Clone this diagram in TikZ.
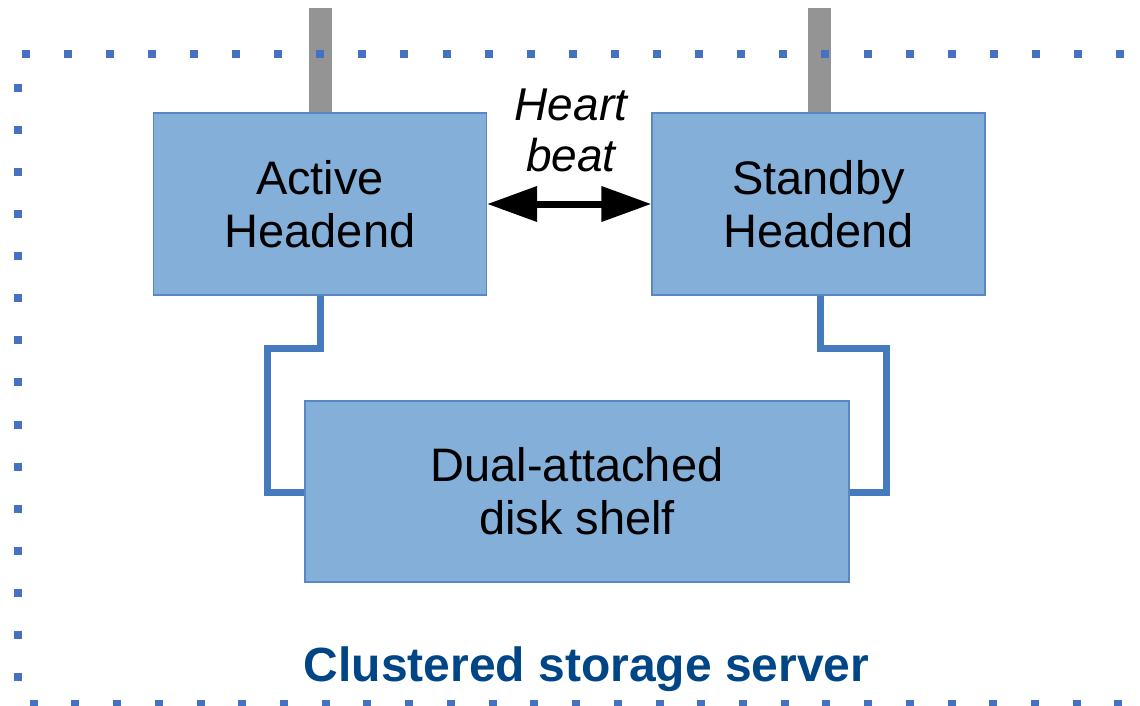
\documentclass[tikz,border=0pt]{standalone}
\usepackage{fontspec}
\setmainfont{Liberation Sans}
\usetikzlibrary{arrows.meta}
\definecolor{boxfill}{RGB}{132,175,216}
\definecolor{boxline}{RGB}{88,135,198}
\definecolor{dotblue}{RGB}{68,114,192}
\definecolor{wireblue}{RGB}{70,122,190}
\definecolor{bargray}{RGB}{148,148,148}
\definecolor{titleblue}{RGB}{0,69,134}
\tikzset{
  unitbox/.style={draw=boxline, line width=1.2pt, fill=boxfill, align=center,
    font=\fontsize{47}{53}\selectfont, inner sep=0pt},
  wire/.style={draw=wireblue, line width=7pt, line join=miter},
  feedbar/.style={draw=none, fill=bargray},
  dotline/.style={draw=dotblue, line width=8pt, line cap=butt},
}
\begin{document}
\begin{tikzpicture}[x=1pt,y=-1pt]
\useasboundingbox (0,0) rectangle (1140,705);
% feed bars
\fill[bargray] (309,8) rectangle (331.5,113);
\fill[bargray] (807.5,8) rectangle (830.5,113);
% dotted enclosure
\draw[dotline, dash pattern=on 8pt off 34.1pt] (21.5,53.5) -- (1140,53.5);
\draw[dotline, dash pattern=on 8pt off 34.07pt] (18,84) -- (18,690);
\draw[dotline, dash pattern=on 8pt off 33.72pt] (29.7,704) -- (1140,704);
% boxes
\node[unitbox, minimum width=333pt, minimum height=182pt] (act) at (320,204) {Active\\Headend};
\node[unitbox, minimum width=333pt, minimum height=182pt] (stb) at (818.5,204) {Standby\\Headend};
\node[unitbox, minimum width=544pt, minimum height=181pt] (disk) at (577,491.5) {Dual-attached\\disk shelf};
% wires
\draw[wire] (act.south -| 320,0) |- (267,348) |- (disk.west |- 0,492);
\draw[wire] (stb.south -| 820,0) |- (886,348) |- (disk.east |- 0,492);
% heartbeat
\draw[line width=7pt, {Triangle[length=50pt,width=34pt]}-{Triangle[length=50pt,width=34pt]}] (act.east |- 0,204) -- (stb.west |- 0,204);
\node[font=\fontsize{46}{51.7}\selectfont\itshape, align=center, anchor=base, inner sep=0pt] (hb) at (571,171.7) {Heart\\beat};
% title
\node[font=\fontsize{48}{53}\selectfont\bfseries, text=titleblue, anchor=base, inner sep=0pt] (title) at (586.5,681.7) {Clustered storage server};
\end{tikzpicture}
\end{document}
